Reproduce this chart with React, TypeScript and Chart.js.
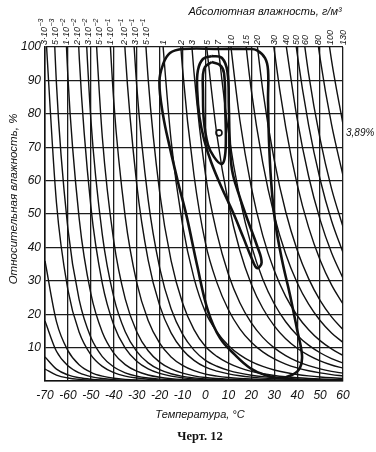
import React, { useEffect, useRef } from 'react';
import { Chart, registerables } from 'chart.js';

Chart.register(...registerables);

// ---------------- data ----------------
// temperature grid of the saturation table, °C
const TEMPS = [-70, -65, -60, -55, -50, -45, -40, -35, -30, -25, -20, -15, -10, -5, 0, 5, 10, 15, 20, 25, 30, 35, 40, 45, 50, 55, 60];
// saturation water-vapour density at those temperatures (over ice below 0 °C), g/m³
const SAT_DENSITY = [0.002782, 0.005621, 0.010983, 0.020801, 0.038249, 0.068449, 0.11942, 0.20341, 0.33885, 0.55268, 0.88375, 1.3874, 2.1398, 3.2464, 4.8484, 6.7911, 9.3819, 12.796, 17.241, 22.966, 30.259, 39.466, 50.977, 65.242, 82.777, 104.16, 130.03];

// absolute humidity levels of the iso-lines, g/m³, and their labels (^ marks the exponent)
const ABS_LEVELS = [1e-4, 2e-4, 5e-4, 1e-3, 3e-3, 5e-3, 1e-2, 2e-2, 3e-2, 5e-2, 0.1, 0.2, 0.3, 0.5, 1, 2, 3, 5, 7, 10, 15, 20, 30, 40, 50, 60, 80, 100, 130];
const ABS_LABELS = ['', '', '', '', '3·10^-3', '5·10^-3', '1·10^-2', '2·10^-2', '3·10^-2', '5·10^-2', '1·10^-1', '2·10^-1', '3·10^-1', '5·10^-1', '1', '2', '3', '5', '7', '10', '15', '20', '30', '40', '50', '60', '80', '100', '130'];

// axis ticks
const X_TICKS = [-70, -60, -50, -40, -30, -20, -10, 0, 10, 20, 30, 40, 50, 60];
const Y_TICKS = [0, 10, 20, 30, 40, 50, 60, 70, 80, 90, 100];

// frequency contours (temperature °C, relative humidity %)
const OUTER_T = [6.3, 19.4, 22.5, 26.0, 27.3, 27.3, 27.7, 28.6, 30.3, 33.4, 36.9, 40.0, 42.1, 41.2, 37.7, 32.5, 26.0, 19.4, 12.9, 6.3, 1.1, -3.6, -8.1, -12.0, -15.5, -18.5, -20.1, -18.5, -15.5, -9.8, 6.3];
const OUTER_RH = [99.4, 99.4, 99.0, 96.7, 93.1, 84.1, 72.2, 60.2, 48.2, 36.2, 25.7, 15.3, 7.8, 3.9, 1.8, 0.9, 1.8, 3.9, 7.8, 12.9, 21.0, 34.5, 49.0, 59.6, 69.8, 79.6, 89.5, 94.8, 98.2, 99.4, 99.4];

const MIDDLE_T = [2.8, 7.2, 9.6, 10.2, 10.6, 11.6, 14.5, 18.5, 22.5, 24.5, 22.5, 20.0, 16.5, 12.0, 7.0, 2.5, -0.5, -2.6, -3.6, -3.3, -1.1, 2.8];
const MIDDLE_RH = [97.3, 96.7, 92.5, 82.0, 72.0, 63.2, 56.0, 48.0, 40.5, 35.5, 33.8, 37.0, 43.0, 50.5, 58.0, 65.5, 72.0, 79.0, 87.0, 93.0, 96.4, 97.3];

const INNER_T = [2.8, 6.3, 8.1, 8.6, 8.9, 8.3, 6.8, 3.7, 1.1, -0.7, -1.1, -1.1, -0.2, 2.8];
const INNER_RH = [95.5, 94.6, 92.2, 82.0, 72.0, 66.5, 65.0, 67.1, 70.7, 78.1, 87.1, 91.6, 94.0, 95.5];

const PEAK_T = [5.9];
const PEAK_RH = [74.3];
const PEAK_LABEL = '3,89%';

const TOP_TITLE = 'Абсолютная влажность, г/м³';
const Y_TITLE = 'Относительная влажность, %';
const X_TITLE = 'Температура, °C';
const CAPTION = 'Черт. 12';

// ---------------- helpers ----------------
const FONT = "'Liberation Sans', 'DejaVu Sans', sans-serif";
const INK = '#111111';

function isoLine(a: number) {
  const pts = TEMPS.map((t, i) => ({ x: t, y: (100 * a) / SAT_DENSITY[i] }));
  let start = 0;
  for (let i = 0; i < pts.length; i++) if (pts[i].y >= 100) start = i;
  return pts.slice(start);
}

function saturationCrossing(a: number): number | null {
  for (let i = 0; i < TEMPS.length - 1; i++) {
    if (SAT_DENSITY[i] <= a && SAT_DENSITY[i + 1] > a) {
      return TEMPS[i] + ((TEMPS[i + 1] - TEMPS[i]) * Math.log(a / SAT_DENSITY[i])) / Math.log(SAT_DENSITY[i + 1] / SAT_DENSITY[i]);
    }
  }
  return null;
}

function loop(ts: number[], rh: number[]) {
  return ts.map((t, i) => ({ x: t, y: rh[i] }));
}

const annotations = {
  id: 'annotations',
  afterDraw(chart: any) {
    const ctx = chart.ctx as CanvasRenderingContext2D;
    const xs = chart.scales.x;
    const ys = chart.scales.y;
    const area = chart.chartArea;
    ctx.save();
    ctx.fillStyle = INK;

    // top labels of iso-lines, rotated
    const items: { x: number; label: string }[] = [];
    ABS_LEVELS.forEach((a, i) => {
      const lbl = ABS_LABELS[i];
      if (!lbl) return;
      const t = saturationCrossing(a);
      if (t === null) return;
      items.push({ x: xs.getPixelForValue(t), label: lbl });
    });
    for (let iter = 0; iter < 40; iter++) {
      for (let i = 0; i < items.length - 1; i++) {
        const g = items[i].label.length > 3 || items[i + 1].label.length > 3 ? 11 : 8;
        const gap = items[i + 1].x - items[i].x;
        if (gap < g) {
          const d = (g - gap) / 2;
          items[i].x -= d;
          items[i + 1].x += d;
        }
      }
    }
    items.forEach((it) => {
      ctx.save();
      ctx.translate(it.x, area.top - 2);
      ctx.rotate(-Math.PI / 2);
      ctx.textBaseline = 'middle';
      ctx.textAlign = 'left';
      const parts = it.label.split('^');
      ctx.font = `italic 9px ${FONT}`;
      ctx.fillText(parts[0], 0, 0.5);
      if (parts[1]) {
        const w = ctx.measureText(parts[0]).width;
        ctx.font = `italic 7px ${FONT}`;
        ctx.fillText(parts[1].replace('-', '−'), w + 0.5, -2.5);
      }
      ctx.restore();
    });

    // top title
    ctx.font = `italic 11px ${FONT}`;
    ctx.textAlign = 'center';
    ctx.textBaseline = 'middle';
    ctx.fillText(TOP_TITLE, 265, 12);

    // y title
    ctx.save();
    ctx.translate(14, 199);
    ctx.rotate(-Math.PI / 2);
    ctx.font = `italic 11.5px ${FONT}`;
    ctx.textAlign = 'center';
    ctx.textBaseline = 'middle';
    ctx.fillText(Y_TITLE, 0, 0);
    ctx.restore();

    // x title
    ctx.font = `italic 11px ${FONT}`;
    ctx.textAlign = 'center';
    ctx.fillText(X_TITLE, 200, 415);

    // caption
    ctx.font = `bold 12.5px 'Liberation Serif', 'DejaVu Serif', serif`;
    ctx.fillText(CAPTION, 200, 437);

    // peak label
    ctx.font = `italic 10px ${FONT}`;
    ctx.textAlign = 'left';
    ctx.fillText(PEAK_LABEL, area.right + 3, ys.getPixelForValue(PEAK_RH[0]));

    ctx.restore();
  },
};

export default function App() {
  const ref = useRef<HTMLCanvasElement | null>(null);

  useEffect(() => {
    document.body.style.margin = '0';
    const canvas = ref.current;
    if (!canvas) return;

    const isoSets = ABS_LEVELS.map((a) => ({
      data: isoLine(a),
      showLine: true,
      borderColor: INK,
      borderWidth: 1.4,
      pointRadius: 0,
      cubicInterpolationMode: 'monotone' as const,
      fill: false,
    }));

    const contour = (ts: number[], rh: number[]) => ({
      data: loop(ts, rh),
      showLine: true,
      borderColor: INK,
      borderWidth: 2.6,
      pointRadius: 0,
      tension: 0.4,
      fill: false,
    });

    const chart = new Chart(canvas, {
      type: 'scatter',
      data: {
        datasets: [
          ...isoSets,
          contour(OUTER_T, OUTER_RH),
          contour(MIDDLE_T, MIDDLE_RH),
          contour(INNER_T, INNER_RH),
          {
            data: PEAK_T.map((t, i) => ({ x: t, y: PEAK_RH[i] })),
            showLine: false,
            pointRadius: 3,
            pointBorderWidth: 1.6,
            pointBackgroundColor: '#ffffff',
            pointBorderColor: INK,
          } as any,
        ],
      },
      options: {
        animation: false,
        responsive: false,
        devicePixelRatio: 1,
        events: [],
        layout: { padding: { top: 47, right: 33, left: 0, bottom: 0 } },
        plugins: { legend: { display: false }, tooltip: { enabled: false } },
        scales: {
          x: {
            type: 'linear',
            position: 'bottom',
            min: -70,
            max: 60,
            afterBuildTicks: (s: any) => {
              s.ticks = X_TICKS.map((v) => ({ value: v }));
            },
            afterFit: (s: any) => {
              s.height = 71;
            },
            ticks: {
              color: INK,
              padding: 7,
              maxRotation: 0,
              autoSkip: false,
              font: { family: FONT, size: 12, style: 'italic' },
            },
            grid: { color: '#1c1c1c', lineWidth: 1.3, drawTicks: false },
            border: { color: INK, width: 1.5 },
          },
          y: {
            type: 'linear',
            min: 0,
            max: 100,
            afterBuildTicks: (s: any) => {
              s.ticks = Y_TICKS.map((v) => ({ value: v }));
            },
            afterFit: (s: any) => {
              s.width = 45;
            },
            ticks: {
              color: INK,
              padding: 4,
              autoSkip: false,
              font: { family: FONT, size: 12, style: 'italic' },
              callback: (v: any) => (v === 0 ? '' : String(v)),
            },
            grid: { color: '#1c1c1c', lineWidth: 1.3, drawTicks: false },
            border: { color: INK, width: 1.5 },
          },
        },
      },
      plugins: [annotations],
    });

    return () => chart.destroy();
  }, []);

  return <canvas ref={ref} width={376} height={452} style={{ display: 'block' }} />;
}
